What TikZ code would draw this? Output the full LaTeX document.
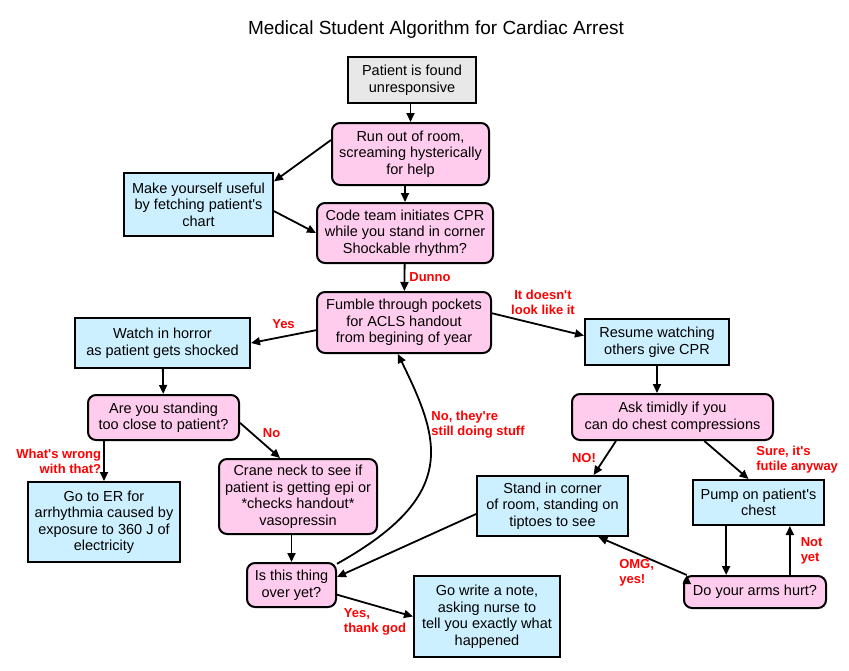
\documentclass[tikz,border=0pt]{standalone}
\usepackage{fontspec}
\setmainfont{Liberation Sans}[Ligatures=TeXOff]
\usetikzlibrary{arrows.meta}
\definecolor{pinkfill}{RGB}{255,204,238}
\definecolor{bluefill}{RGB}{204,240,255}
\definecolor{grayfill}{RGB}{232,232,232}
\tikzset{
	>={Triangle[length=9pt,width=8pt]},
	every node/.style={font=\fontsize{14.5}{16.5}\selectfont, align=center, inner sep=0pt},
	startbox/.style={draw, line width=2pt, fill=grayfill},
	actionbox/.style={draw, line width=2pt, fill=bluefill},
	question/.style={draw, line width=2pt, fill=pinkfill, rounded corners=8pt},
	answer/.style={font=\fontsize{13}{15}\selectfont\bfseries, text=red, align=left, inner sep=2pt},
	flow/.style={->, line width=1.8pt},
}

\begin{document}
\begin{tikzpicture}[x=1pt, y=-1pt]
	\useasboundingbox (0,0) rectangle (849,670);
	\node (title) at (436,30) {\fontsize{19}{21}\selectfont Medical Student Algorithm for Cardiac Arrest};

	\node[startbox, minimum width=128, minimum height=46] (found) at (412,80) {Patient is found\\unresponsive};
	\node[question, minimum width=157, minimum height=62] (run) at (410.5,154) {Run out of room,\\screaming hysterically\\for help};
	\node[actionbox, minimum width=149, minimum height=63] (useful) at (198.5,204.5) {Make yourself useful\\by fetching patient's\\chart};
	\node[question, minimum width=176, minimum height=60] (code) at (405,233) {Code team initiates CPR\\while you stand in corner\\Shockable rhythm?};
	\node[question, minimum width=174, minimum height=61] (fumble) at (404,322.5) {Fumble through pockets\\for ACLS handout\\from begining of year};
	\node[actionbox, minimum width=175, minimum height=50] (watch) at (162.5,343) {Watch in horror\\as patient gets shocked};
	\node[actionbox, minimum width=144, minimum height=46] (resume) at (657,342) {Resume watching\\others give CPR};
	\node[question, minimum width=151, minimum height=45] (close) at (163.5,417.5) {Are you standing\\too close to patient?};
	\node[question, minimum width=201, minimum height=46] (ask) at (672.5,417) {Ask timidly if you\\can do chest compressions};
	\node[actionbox, minimum width=152, minimum height=80] (er) at (104,522) {Go to ER for\\arrhythmia caused by\\exposure to 360 J of\\electricity};
	\node[question, minimum width=158, minimum height=75] (crane) at (298,496.5) {Crane neck to see if\\patient is getting epi or\\*checks handout*\\vasopressin};
	\node[actionbox, minimum width=151, minimum height=60] (corner) at (552.5,506) {Stand in corner\\of room, standing on\\tiptoes to see};
	\node[actionbox, minimum width=131, minimum height=45] (pump) at (758.5,502.5) {Pump on patient's\\chest};
	\node[question, minimum width=89, minimum height=44] (over) at (291.5,585) {Is this thing\\over yet?};
	\node[actionbox, minimum width=146, minimum height=81] (note) at (487,616.5) {Go write a note,\\asking nurse to\\tell you exactly what\\happened};
	\node[question, minimum width=142, minimum height=32] (arms) at (755,592) {Do your arms hurt?};

	\draw[flow]
		(found.south -| run.north) edge (run.north)
		(run.170) edge (useful.17)
		(run.south -| code.north) edge (code.north)
		(useful.-5) edge (code.west)
		%
		(code) edge node[answer, right=2pt] {Dunno} (fumble)
		(fumble.185) edge node[answer, above=5pt] {Yes} (watch.east)
		(fumble.6) edge node[answer, above=7pt, xshift=5pt, align=center] {It doesn't\\look like it} (resume.175)
		%
		(watch) edge (close)
		(close.south -| er.north) edge node[answer, left, align=right] {What's wrong\\with that?} (er.north)
		(close.-4) edge node[answer, above right] {No} (crane.115)
		(crane.south -| over.north) edge (over.north)
		(over.-12) edge node[answer, below] {Yes,\\thank god} (note.west)
		%
		(resume.south) edge (resume.south |- ask.north)
		(ask.203) edge node[answer, left=6pt] {NO!} (corner.37)
		(ask.-37) edge node[answer, right=27pt] {Sure, it's\\futile anyway} (pump.113)
		(corner.186) edge (over.10)
		%
		(pump.-144) edge (pump.-144 |- arms.north)
		(arms.26) edge node[answer, right=8pt] {Not\\yet} (arms.26 |- pump.south)
		(arms.166) edge node[answer, below=1pt, xshift=-6pt] {OMG,\\yes!} (corner.-34)
	;
	\draw[flow] (over.25) .. controls (460,495) and (440,440) .. node[answer, pos=0.7, right=2pt] {No, they're\\still doing stuff} (fumble.-101);
\end{tikzpicture}
\end{document}
